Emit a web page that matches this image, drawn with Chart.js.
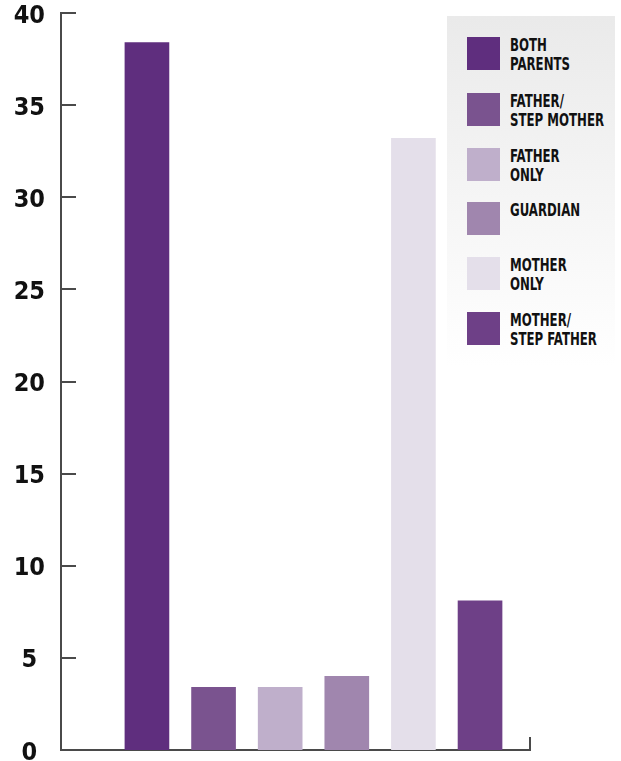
<!DOCTYPE html>
<html>
<head>
<meta charset="utf-8">
<script src="https://cdn.jsdelivr.net/npm/chart.js@4"></script>
<style>
  body { margin: 0; background: #fff; }
  #wrap { position: relative; width: 621px; height: 761px; }
  #legend {
    position: absolute; left: 447px; top: 16px; width: 168px; height: 350px;
    background: linear-gradient(#eaeaea, #ffffff);
    font-family: "Liberation Sans Narrow", "DejaVu Sans Condensed", sans-serif;
    font-weight: bold; font-size: 17px; line-height: 19px; color: #111;
  }
  #legend .item { position: absolute; left: 20px; }
  #legend .box { position: absolute; left: 0; top: 0; width: 33px; height: 33px; }
  #legend .txt {
    position: absolute; left: 43px; top: -1px; white-space: nowrap;
    transform: scaleX(0.77); transform-origin: left top;
  }
</style>
</head>
<body>
<div id="wrap">
  <canvas id="canvas"></canvas>
  <div id="legend"></div>
</div>
<script>
var categories = ["BOTH\nPARENTS", "FATHER/\nSTEP MOTHER", "FATHER\nONLY", "GUARDIAN", "MOTHER\nONLY", "MOTHER/\nSTEP FATHER"];
var shares = [38.4, 3.4, 3.4, 4.0, 33.2, 8.1];
var colors = ["#5f2e7e", "#7a538f", "#bfafcb", "#a086ae", "#e4dfea", "#6e4087"];
var yTicks = [0, 5, 10, 15, 20, 25, 30, 35, 40];

// legend rows (top offset inside the grey box)
var legendTops = [21, 77, 132, 186, 241, 296];
var legend = document.getElementById("legend");
categories.forEach(function (name, i) {
  var item = document.createElement("div");
  item.className = "item";
  item.style.top = legendTops[i] + "px";
  item.innerHTML = '<div class="box" style="background:' + colors[i] + '"></div>' +
    '<div class="txt">' + name.replace("\n", "<br>") + "</div>";
  legend.appendChild(item);
});

// small tick marks pointing into the plot
var innerTicks = {
  id: "innerTicks",
  afterDraw: function (chart) {
    var ctx = chart.ctx;
    var area = chart.chartArea;
    var y = chart.scales.y;
    ctx.save();
    ctx.strokeStyle = "#4a4a4a";
    ctx.lineWidth = 2;
    ctx.beginPath();
    y.ticks.forEach(function (t) {
      var py = Math.round(y.getPixelForValue(t.value));
      ctx.moveTo(area.left, py);
      ctx.lineTo(area.left + 15, py);
    });
    ctx.moveTo(area.right, area.bottom);
    ctx.lineTo(area.right, area.bottom - 13);
    ctx.stroke();
    ctx.restore();
  }
};

const ctx = document.getElementById("canvas").getContext("2d");
const myChart = new Chart(ctx, {
  type: "bar",
  data: {
    datasets: [
      {
        data: shares.map(function (v, i) { return { x: i + 1, y: v }; }),
        backgroundColor: colors,
        barThickness: 44,
      },
    ],
  },
  plugins: [innerTicks],
  options: {
    responsive: true,
    maintainAspectRatio: false,
    animation: false,
    layout: { padding: { top: 13, right: 91, left: 0, bottom: 0 } },
    plugins: { legend: { display: false }, tooltip: { enabled: false } },
    scales: {
      x: {
        type: "linear",
        offset: false,
        min: -0.29,
        max: 6.75,
        grid: { display: false, drawTicks: false },
        border: { display: true, color: "#4a4a4a", width: 2 },
        ticks: { display: false },
        afterFit: function (s) { s.height = 11; s.paddingLeft = 0; s.paddingRight = 0; },
      },
      y: {
        min: 0,
        max: 40,
        afterBuildTicks: function (s) {
          s.ticks = yTicks.map(function (v) { return { value: v }; });
        },
        grid: { display: false, drawTicks: false },
        border: { display: true, color: "#4a4a4a", width: 2 },
        ticks: {
          color: "#111",
          padding: 16,
          crossAlign: "center",
          labelOffset: 3,
          font: { family: "'Liberation Sans Narrow', 'DejaVu Sans Condensed', sans-serif", weight: "bold", size: 25, lineHeight: 0.8 },
        },
        afterFit: function (s) { s.width = 61; s.paddingTop = 0; s.paddingBottom = 0; },
      },
    },
  },
});
</script>
</body>
</html>
